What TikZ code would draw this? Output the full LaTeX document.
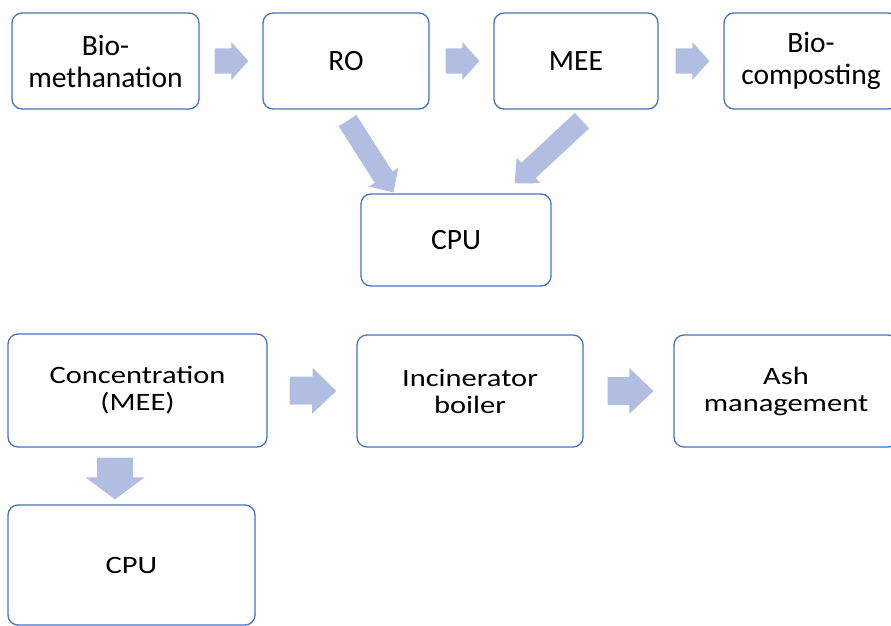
\documentclass[tikz,border=0pt]{standalone}
\usepackage{fontspec}
\setmainfont{Carlito}
\newfontfamily\widefont[FakeStretch=1.22]{Carlito}
\usetikzlibrary{calc}
\definecolor{boxblue}{RGB}{68,114,196}
\definecolor{arrowblue}{RGB}{177,190,225}
\tikzset{
  box/.style n args={2}{draw=boxblue, line width=1.3pt, rounded corners=10pt, fill=white,
    minimum width=#1, minimum height=#2, inner sep=0pt, align=center, text=black},
  topfont/.style={font=\fontsize{29.5}{32}\selectfont},
  botfont/.style={font=\widefont\fontsize{25}{27}\selectfont},
  blockfill/.style={fill=arrowblue}
}
% block arrow: #1 start, #2 tip, #3 shaft half width, #4 head half width, #5 head length
\newcommand\blockarr[5]{%
  \coordinate (bA) at #1;
  \coordinate (bB) at #2;
  \coordinate (bH) at ($(bB)!#5!(bA)$);
  \fill[blockfill] ($(bA)!#3!90:(bB)$) -- ($(bH)!#3!90:(bB)$) -- ($(bH)!#4!90:(bB)$)
    -- (bB) -- ($(bH)!#4!-90:(bB)$) -- ($(bH)!#3!-90:(bB)$) -- ($(bA)!#3!-90:(bB)$) -- cycle;}
\begin{document}
\begin{tikzpicture}[x=1pt,y=-1pt]
\useasboundingbox (0,0) rectangle (891,626);
% top row
\node[box={187pt}{96pt}, topfont] (bio) at (105.5,61) {Bio-\\methanation};
\node[box={166pt}{96pt}, topfont] (ro) at (346,61) {RO};
\node[box={164pt}{96pt}, topfont] (mee) at (576,61) {MEE};
\node[box={174pt}{96pt}, topfont] (comp) at (811,61) {Bio-\\composting};
\node[box={190pt}{92pt}, topfont] (cpu1) at (456,240) {CPU};
% bottom part
\node[box={259pt}{113pt}, botfont] (conc) at (137.5,390.5) {Concentration\\(MEE)};
\node[box={226pt}{112pt}, botfont] (inc) at (470,391) {Incinerator\\boiler};
\node[box={224pt}{112pt}, botfont] (ash) at (786,391) {Ash\\management};
\node[box={247pt}{120pt}, botfont] (cpu2) at (131.5,565) {CPU};
% arrows top
\blockarr{($(bio.east)+(15,0)$)}{($(ro.west)+(-14,0)$)}{12.5pt}{19pt}{17pt}
\blockarr{($(ro.east)+(16,0)$)}{($(mee.west)+(-14,0)$)}{12.5pt}{19pt}{17pt}
\blockarr{($(mee.east)+(17,0)$)}{($(comp.west)+(-14,0)$)}{12.5pt}{19pt}{17pt}
\blockarr{([xshift=1.5pt,yshift=-11pt]ro.south)}{([xshift=33pt,yshift=1pt]cpu1.north west)}{10.5pt}{17.5pt}{18pt}
\blockarr{([xshift=6pt,yshift=-11pt]mee.south)}{([xshift=-37pt,yshift=10pt]cpu1.north east)}{10.5pt}{17.5pt}{19pt}
% arrows bottom
\blockarr{($(conc.east)+(22,0)$)}{($(inc.west)+(-20,0)$)}{14pt}{23pt}{24pt}
\blockarr{($(inc.east)+(24,0)$)}{($(ash.west)+(-20,0)$)}{14pt}{23pt}{24pt}
\blockarr{([xshift=-22.5pt,yshift=-10pt]conc.south)}{([xshift=-16.5pt,yshift=5pt]cpu2.north)}{18pt}{29.5pt}{22pt}
\end{tikzpicture}
\end{document}
